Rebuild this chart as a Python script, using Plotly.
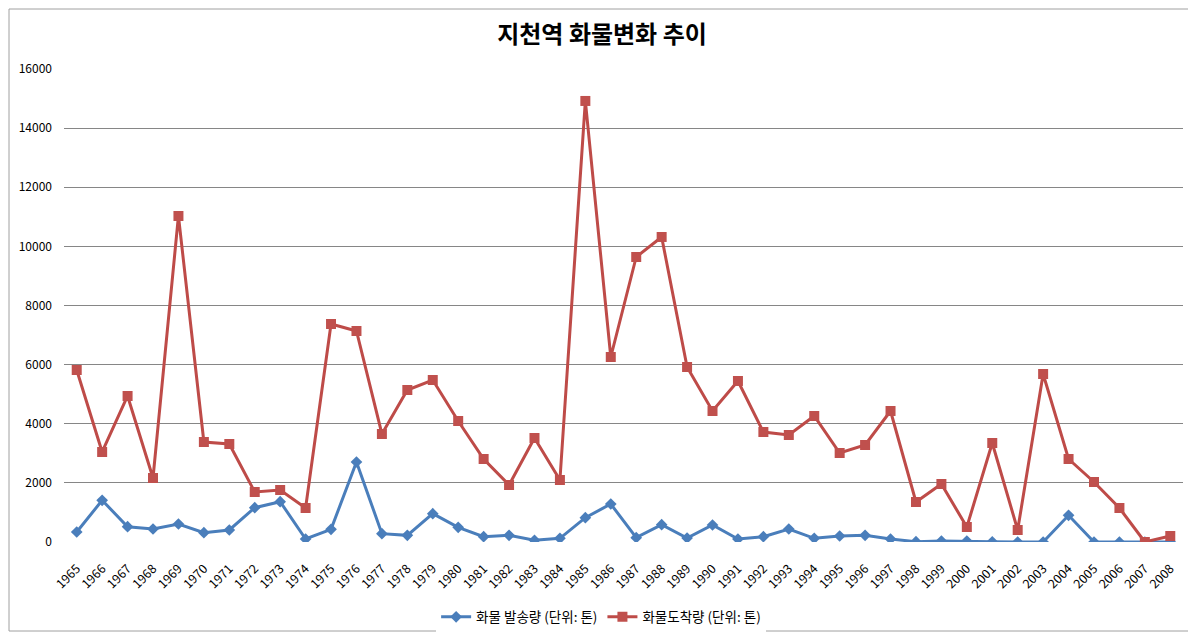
import plotly.graph_objects as go

years = [str(y) for y in range(1965, 2009)]

# 화물 발송량 (톤)
sent = [338, 1410, 518, 440, 609, 316, 406, 1161, 1364, 101,
        429, 2706, 282, 225, 958, 496, 180, 225, 56, 124,
        823, 1285, 147, 586, 135, 575, 101, 180, 440, 124,
        203, 225, 101, 10, 30, 30, 5, 0, 0, 902,
        0, 0, 0, 0]

# 화물도착량 (톤)
arrived = [5818, 3045, 4939, 2165, 11028, 3383, 3315, 1691, 1759, 1150,
           7375, 7138, 3654, 5142, 5480, 4093, 2808, 1928, 3518, 2097,
           14919, 6258, 9641, 10318, 5920, 4432, 5447, 3721, 3620, 4263,
           3011, 3281, 4432, 1353, 1962, 507, 3349, 406, 5683, 2808,
           2030, 1150, 0, 203]

y_ticks = [0, 2000, 4000, 6000, 8000, 10000, 12000, 14000, 16000]

font_family = "Noto Sans CJK KR"

# page body has an 8px margin, so the figure is 8px smaller than the window
W, H = 1188, 626
L, R, T, B = 56, 13, 61, 92
pw, ph = W - L - R, H - T - B

fig = go.Figure()
fig.add_trace(go.Scatter(x=years, y=sent, mode='lines+markers',
                         name='화물 발송량 (단위: 톤)',
                         line=dict(color='#4A7EBB', width=3),
                         marker=dict(symbol='diamond', size=9, color='#4A7EBB')))
fig.add_trace(go.Scatter(x=years, y=arrived, mode='lines+markers',
                         name='화물도착량 (단위: 톤)',
                         line=dict(color='#BE4B48', width=3),
                         marker=dict(symbol='square', size=10, color='#C0504D')))

fig.update_layout(
    width=W, height=H,
    margin=dict(l=L, r=R, t=T, b=B, autoexpand=False),
    paper_bgcolor='white', plot_bgcolor='white',
    font=dict(family=font_family, size=12, color='black'),
    title=dict(text='<b>지천역 화물변화 추이</b>', x=0.5, xanchor='center',
               y=1 - 27 / H, yanchor='middle',
               font=dict(size=24, family=font_family, color='black')),
    xaxis=dict(type='category', range=[-0.5, len(years) - 0.5],
               tickangle=-45, showgrid=False,
               showline=False, zeroline=False, ticks='',
               tickfont=dict(size=12.5), ticklabelstandoff=16,
               automargin=False),
    yaxis=dict(range=[0, 16000], tickvals=y_ticks, tickformat='d',
               showgrid=True, gridcolor='#868686', gridwidth=1,
               zeroline=False, showline=False, ticks='',
               tickfont=dict(size=12), ticklabelstandoff=11,
               automargin=False),
    legend=dict(orientation='h', x=0.48, xanchor='center',
                yref='container', y=(H - 609) / H, yanchor='middle',
                font=dict(size=13.5), traceorder='normal',
                itemwidth=30),
    showlegend=True,
    shapes=[dict(type='rect', xref='paper', yref='paper',
                 x0=(1 - L) / pw, x1=(W - 3 - L) / pw,
                 y0=(T + ph - (H - 3)) / ph, y1=(T + ph - 1) / ph,
                 line=dict(color='#A0A0A0', width=1), layer='below')],
)

fig.write_html("out.html")
